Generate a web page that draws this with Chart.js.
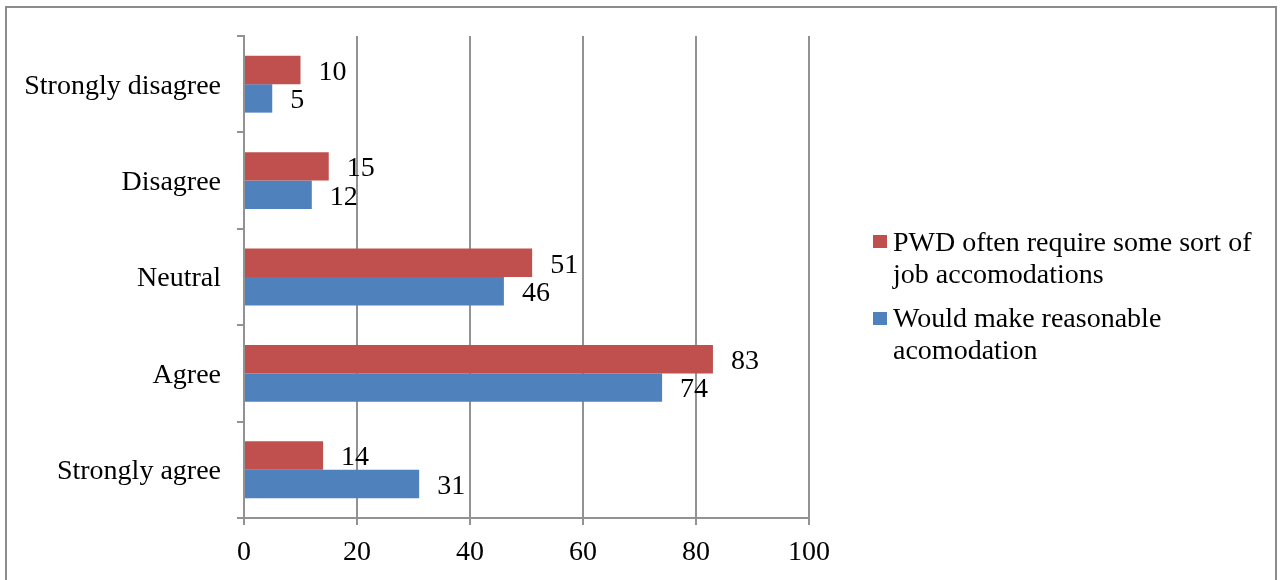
<!DOCTYPE html>
<html lang="en">
<head>
	<meta charset="UTF-8">
	<title>Job accommodations</title>
	<script src="https://cdn.jsdelivr.net/npm/chart.js"></script>
	<style>
		body { margin: 0; width: 1280px; height: 580px; overflow: hidden; background: #fff; position: relative; font-family: "Liberation Serif", "Times New Roman", serif; }
		#frame { position: absolute; left: 5px; top: 6px; width: 1268px; height: 700px; border: 2px solid #8c8c8c; box-sizing: content-box; }
		#chart { position: absolute; left: 0; top: 0; }
		.legend-item { position: absolute; left: 893px; font-size: 28px; line-height: 32px; color: #000; white-space: nowrap; }
		.legend-box { position: absolute; width: 14px; height: 13px; left: 873px; }
	</style>
</head>
<body>
	<div id="frame"></div>
	<canvas id="chart" width="1280" height="580"></canvas>
	<div class="legend-box" style="top:235px; background:#C0504D"></div>
	<div class="legend-item" style="top:226px">PWD often require some sort of<br>job accomodations</div>
	<div class="legend-box" style="top:312px; background:#4F81BD"></div>
	<div class="legend-item" style="top:302px">Would make reasonable<br>acomodation</div>
<script>
	const categories = ['Strongly disagree', 'Disagree', 'Neutral', 'Agree', 'Strongly agree'];
	const requireAccommodation = [10, 15, 51, 83, 14]; // PWD often require some sort of job accomodations
	const wouldAccommodate = [5, 12, 46, 74, 31];     // Would make reasonable acomodation
	const seriesNames = ['PWD often require some sort of job accomodations', 'Would make reasonable acomodation'];
	const xMax = 100;
	const xStep = 20;

	const gridColor = '#929292';

	Chart.defaults.font.family = '"Liberation Serif", "Times New Roman", serif';
	Chart.defaults.font.size = 28;
	Chart.defaults.color = '#000';

	// value labels just past the end of each bar
	const valueLabels = {
		id: 'valueLabels',
		afterDatasetsDraw(chart) {
			const ctx = chart.ctx;
			ctx.save();
			ctx.font = '28px "Liberation Serif", "Times New Roman", serif';
			ctx.fillStyle = '#000';
			ctx.textAlign = 'left';
			ctx.textBaseline = 'middle';
			chart.data.datasets.forEach((ds, i) => {
				chart.getDatasetMeta(i).data.forEach((bar, j) => {
					ctx.fillText(String(ds.data[j]), bar.x + 18, bar.y + 2.5);
				});
			});
			ctx.restore();
		}
	};

	new Chart(document.getElementById('chart'), {
		type: 'bar',
		data: {
			labels: categories,
			datasets: [
				{
					label: seriesNames[0],
					data: requireAccommodation,
					backgroundColor: '#C0504D'
				},
				{
					label: seriesNames[1],
					data: wouldAccommodate,
					backgroundColor: '#4F81BD'
				}
			]
		},
		options: {
			indexAxis: 'y',
			responsive: false,
			animation: false,
			categoryPercentage: 0.59,
			barPercentage: 1,
			layout: {
				padding: { left: 0, top: 36, right: 471, bottom: 0 }
			},
			plugins: {
				legend: { display: false },
				tooltip: { enabled: false }
			},
			scales: {
				x: {
					min: 0,
					max: xMax,
					ticks: { stepSize: xStep, padding: 11 },
					grid: { color: gridColor, lineWidth: 2, tickLength: 7 },
					border: { color: gridColor, width: 2 },
					afterFit(scale) { scale.height = 62; }
				},
				y: {
					ticks: { padding: 16, labelOffset: 2 },
					grid: { color: gridColor, lineWidth: 2, tickLength: 7, drawOnChartArea: false, offset: true },
					border: { color: gridColor, width: 2 },
					afterFit(scale) { scale.width = 244; }
				}
			}
		},
		plugins: [valueLabels]
	});
</script>
</body>
</html>
